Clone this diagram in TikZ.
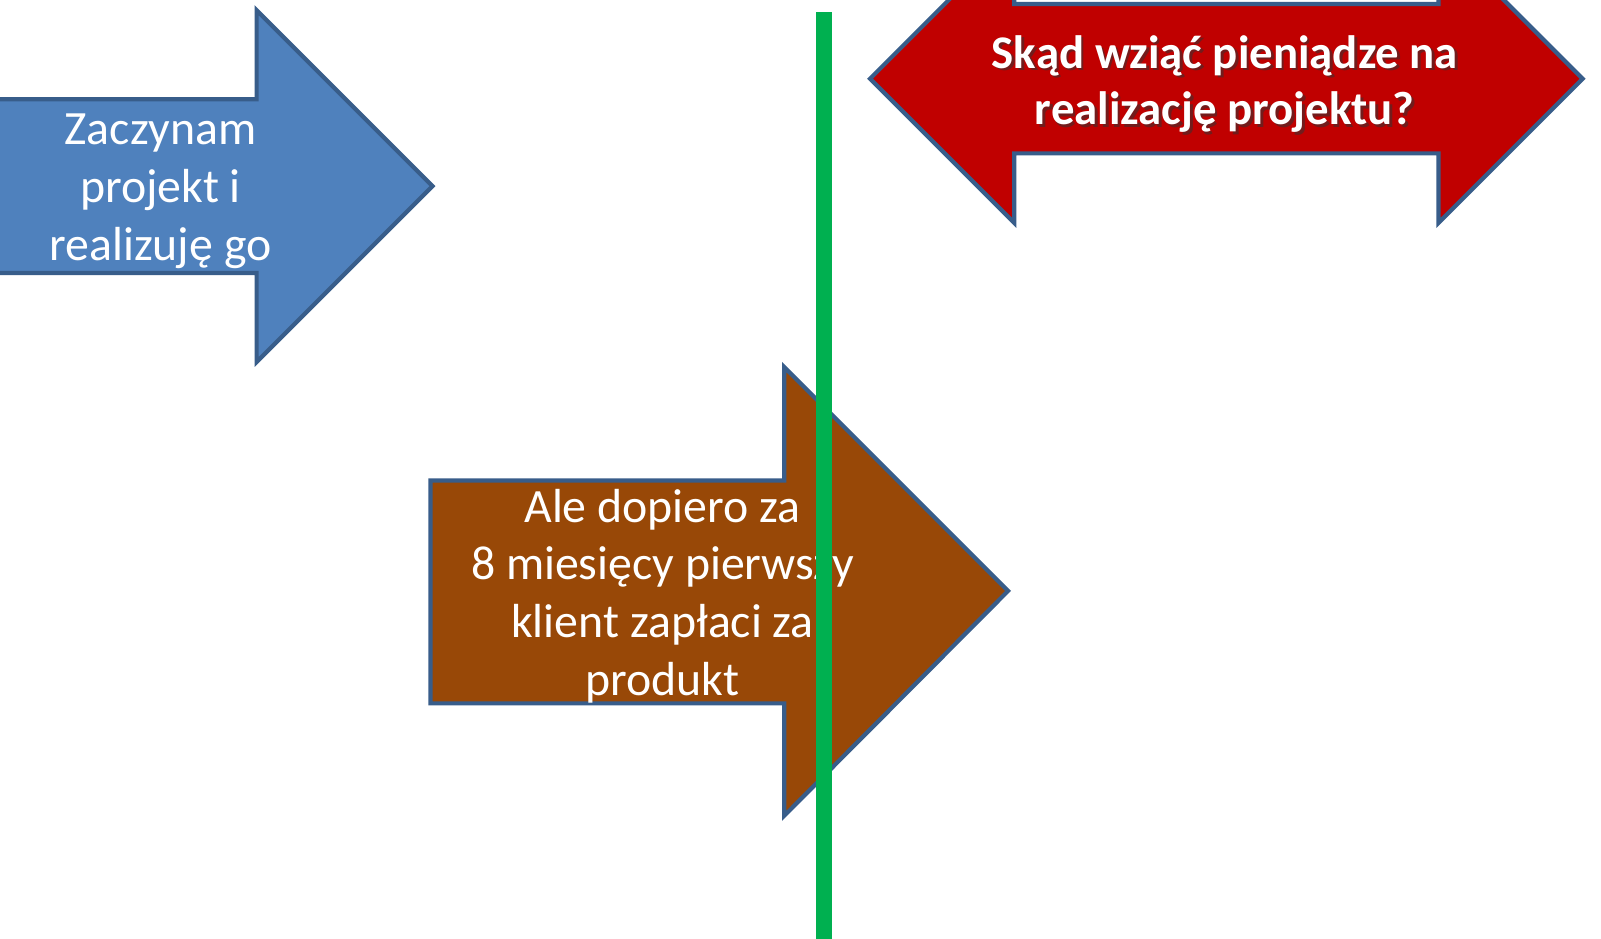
\documentclass[tikz,border=0pt]{standalone}
\usepackage{fontspec}
\setmainfont{Carlito}
\begin{document}
\begin{tikzpicture}[x=0.51118pt,y=-0.51118pt,
  arrowshape/.style={draw=arrowborder, line width=2.1pt, line join=miter},
  lbl/.style={text=white, align=center, font=\fontsize{23.9}{28.8}\selectfont, inner sep=0pt},
  rlbl/.style={align=center, font=\bfseries\fontsize{23.4}{28.3}\selectfont, inner sep=0pt}]
\definecolor{arrowborder}{HTML}{385D8A}
\definecolor{bluefill}{HTML}{4F81BD}
\definecolor{brownfill}{HTML}{984807}
\definecolor{redfill}{HTML}{C00000}
\definecolor{greenline}{HTML}{00B050}
\useasboundingbox (0,0) rectangle (1566,917.5);
\clip (0,0) rectangle (1566,917.5);
\fill[white] (0,0) rectangle (1566,917.5);
% blue arrow
\draw[arrowshape, fill=bluefill] (-10,97) -- (251,97) -- (251,10) -- (423,182) -- (251,354) -- (251,267) -- (-10,267) -- cycle;
\node[lbl] (blue) at (157,187) {Zaczynam\\projekt i\\realizuję go};
% brown arrow
\draw[arrowshape, fill=brownfill] (421,470) -- (767,470) -- (767,359) -- (986,578) -- (767,798) -- (767,688) -- (421,688) -- cycle;
\node[lbl] (brown) at (648,583) {Ale dopiero za\\8 miesięcy pierwszy\\klient zapłaci za\\produkt};
% green line
\draw[greenline, line width=8pt] (806,12) -- (806,930);
% red double arrow
\draw[arrowshape, fill=redfill] (851,77) -- (992,-64) -- (992,4) -- (1407,4) -- (1407,-64) -- (1548,77) -- (1407,218) -- (1407,150) -- (992,150) -- (992,218) -- cycle;
\node[rlbl, text=black!80, opacity=0.55] at (1200.5,84.5) {Skąd wziąć pieniądze na\\realizację projektu?};
\node[rlbl, text=white] (red) at (1198,82) {Skąd wziąć pieniądze na\\realizację projektu?};
\end{tikzpicture}
\end{document}
